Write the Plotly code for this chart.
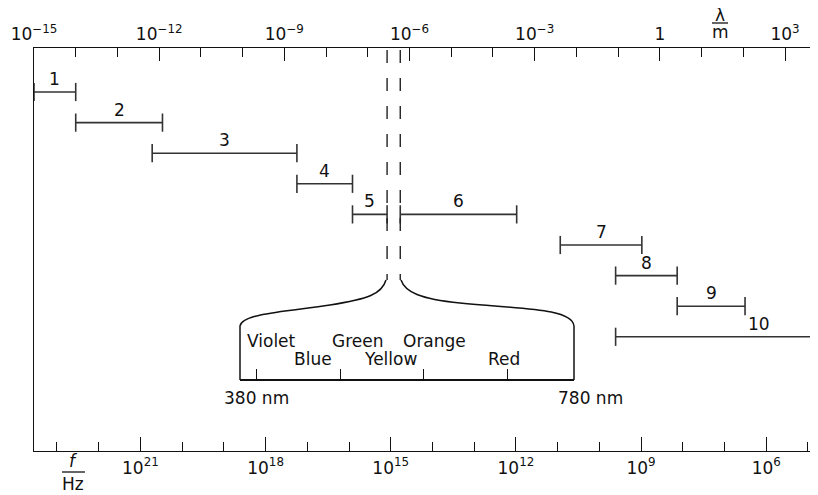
import numpy as np
import plotly.graph_objects as go

# ---------------- data ----------------
BAND = [1, 2, 3, 4, 5, 6, 7, 8, 9, 10]
LAM_MIN_M = [1e-15, 1e-14, 6.8e-13, 2.0e-9, 4.3e-8, 6.0e-7, 4.1e-3, 8.7e-2, 2.6, 8.7e-2]
LAM_MAX_M = [1e-14, 1.2e-12, 2.0e-9, 4.3e-8, 2.9e-7, 3.7e-4, 0.37, 2.6, 110.0, 6.3e5]
BAND_ROW = [0, 1, 2, 3, 4, 4, 5, 6, 7, 8]

WL_TICKS = [1e-15, 1e-12, 1e-9, 1e-6, 1e-3, 1, 1e3]
WL_TICKTEXT = ["10<sup>−15</sup>", "10<sup>−12</sup>", "10<sup>−9</sup>", "10<sup>−6</sup>",
               "10<sup>−3</sup>", "1", "10<sup>3</sup>"]
WL_MINOR = [10.0 ** k for k in range(-15, 5)]

F_TICKS = [1e21, 1e18, 1e15, 1e12, 1e9, 1e6]
F_TICKTEXT = ["10<sup>21</sup>", "10<sup>18</sup>", "10<sup>15</sup>", "10<sup>12</sup>",
              "10<sup>9</sup>", "10<sup>6</sup>"]
F_MINOR = [10.0 ** k for k in range(4, 25)]

VIS_RANGE_NM = [380, 780]
VIS_TICKS_NM = [400, 500, 600, 700]
COLOR_NAMES = ["Violet", "Blue", "Green", "Yellow", "Orange", "Red"]
COLOR_NM = [418, 467, 521, 560, 613, 696]
COLOR_LINE = [0, 1, 0, 1, 0, 1]

# ---------------- layout helpers (window pixel coordinates) ----------------
WIN_W, WIN_H = 818, 495
BODY = 8                      # default page body margin of the html file
PLOT_L, PLOT_R, PLOT_T, PLOT_B = 34, 818, 48, 451
FIG_W, FIG_H = WIN_W - BODY, WIN_H - BODY
PW, PH = PLOT_R - PLOT_L, PLOT_B - PLOT_T


def px(x):
    return (x - PLOT_L) / PW


def py(y):
    return (PLOT_B - y) / PH


ROW0_PX, ROW_STEP = 92.0, 30.6
Y_RANGE = [(PLOT_B - ROW0_PX) / ROW_STEP, (PLOT_T - ROW0_PX) / ROW_STEP]
DASH_TOP = (50 - ROW0_PX) / ROW_STEP
DASH_BOT = (280 - ROW0_PX) / ROW_STEP

FONT = "DejaVu Sans, Liberation Sans, Arial, sans-serif"
INK = "#111111"
FS = 17
TXT = dict(family=FONT, size=FS, color=INK)

fig = go.Figure()

# bars
for b, lo, hi, r in zip(BAND, LAM_MIN_M, LAM_MAX_M, BAND_ROW):
    fig.add_trace(go.Scatter(
        x=[lo, hi], y=[r, r], xaxis="x2", yaxis="y", mode="lines+markers",
        line=dict(color="#333", width=1.6),
        marker=dict(symbol="line-ns", size=13, line=dict(color="#333", width=1.6)),
        hoverinfo="skip", showlegend=False))
    mid = (np.log10(lo) + np.log10(hi)) / 2
    fig.add_annotation(x=mid, y=r, xref="x2", yref="y", text=str(b), showarrow=False,
                       xanchor="center", yanchor="bottom", yshift=1, font=TXT)

# dashed boundaries of the visible band
for v in [LAM_MAX_M[4], LAM_MIN_M[5]]:
    fig.add_trace(go.Scatter(
        x=[v, v], y=[DASH_TOP, DASH_BOT], xaxis="x2", yaxis="y", mode="lines",
        line=dict(color="#222", width=1.4, dash="13px,15px"),
        hoverinfo="skip", showlegend=False))

# invisible traces so the frequency and inset axes are drawn
fig.add_trace(go.Scatter(x=[F_TICKS[0]], y=[0], xaxis="x", yaxis="y", mode="markers",
                         marker=dict(opacity=0), hoverinfo="skip", showlegend=False))
fig.add_trace(go.Scatter(x=[VIS_RANGE_NM[0]], y=[0], xaxis="x3", yaxis="y", mode="markers",
                         marker=dict(opacity=0), hoverinfo="skip", showlegend=False))

fig.update_layout(
    width=FIG_W, height=FIG_H,
    margin=dict(l=PLOT_L - BODY, r=WIN_W - PLOT_R, t=PLOT_T - BODY, b=WIN_H - PLOT_B,
                autoexpand=False),
    paper_bgcolor="white", plot_bgcolor="rgba(0,0,0,0)",
    xaxis=dict(type="log", range=[23.55, 4.76], side="bottom", anchor="y", automargin=False,
               showline=True, linecolor=INK, linewidth=1.3, mirror=False,
               ticks="inside", ticklen=14, tickwidth=1.3, tickcolor=INK,
               tickvals=F_TICKS, ticktext=F_TICKTEXT, tickfont=TXT,
               ticklabelstandoff=1,
               minor=dict(tickvals=F_MINOR, ticks="inside", ticklen=9, tickwidth=1.3, tickcolor=INK),
               showgrid=False, zeroline=False),
    xaxis2=dict(type="log", range=[-15, 3.79], side="top", anchor="y", overlaying="x",
                automargin=False,
                showline=True, linecolor=INK, linewidth=1.3,
                ticks="inside", ticklen=13, tickwidth=1.3, tickcolor=INK,
                tickvals=WL_TICKS, ticktext=WL_TICKTEXT, tickfont=TXT,
                ticklabelstandoff=0,
                minor=dict(tickvals=WL_MINOR, ticks="inside", ticklen=9, tickwidth=1.3, tickcolor=INK),
                showgrid=False, zeroline=False),
    xaxis3=dict(range=VIS_RANGE_NM, domain=[px(240), px(574)], anchor="free", position=py(380),
                automargin=False,
                showline=True, linecolor=INK, linewidth=1.5,
                ticks="inside", ticklen=10, tickwidth=1.3, tickcolor=INK,
                tickvals=VIS_TICKS_NM, showticklabels=False, showgrid=False, zeroline=False),
    yaxis=dict(range=Y_RANGE, showline=True, linecolor=INK, linewidth=1.3, automargin=False,
               showticklabels=False, ticks="", showgrid=False, zeroline=False),
)

# inset box sides and the brace-like curves
line_style = dict(color=INK, width=1.5)
for xs in (240, 574):
    fig.add_shape(type="line", xref="paper", yref="paper",
                  x0=px(xs), x1=px(xs), y0=py(380), y1=py(326), line=line_style)


def path(pts):
    s = "M {:.5f},{:.5f}".format(px(pts[0][0]), py(pts[0][1]))
    rest = pts[1:]
    for i in range(0, len(rest), 3):
        s += " C " + " ".join("{:.5f},{:.5f}".format(px(a), py(b)) for a, b in rest[i:i + 3])
    return s


left_curve = [(386, 280), (382, 294), (368, 299), (330, 305),
              (292, 311), (242, 313), (240, 326)]
right_curve = [(401, 280), (405, 292), (420, 299), (460, 303),
               (520, 309), (572, 308), (574, 326)]
for c in (left_curve, right_curve):
    fig.add_shape(type="path", xref="paper", yref="paper", path=path(c), line=line_style)

# colour names in the inset
for name, nm, ln in zip(COLOR_NAMES, COLOR_NM, COLOR_LINE):
    fig.add_annotation(x=nm, y=py(341 if ln == 0 else 359), xref="x3", yref="paper",
                       text=name, showarrow=False, xanchor="center", yanchor="middle", font=TXT)

for nm in VIS_RANGE_NM:
    fig.add_annotation(x=nm, y=py(398), xref="x3", yref="paper", text=f"{nm} nm",
                       showarrow=False, xanchor="center", yanchor="middle", xshift=16, font=TXT)

# axis quantity labels (quantity / unit)
fig.add_annotation(x=px(720), y=py(15), xref="paper", yref="paper", text="λ",
                   showarrow=False, xanchor="center", yanchor="middle", font=TXT)
fig.add_annotation(x=px(720), y=py(32), xref="paper", yref="paper", text="m",
                   showarrow=False, xanchor="center", yanchor="middle", font=TXT)
fig.add_shape(type="line", xref="paper", yref="paper", x0=px(712), x1=px(728),
              y0=py(23), y1=py(23), line=dict(color=INK, width=1.3))

fig.add_annotation(x=px(73), y=py(461), xref="paper", yref="paper", text="<i>f</i>",
                   showarrow=False, xanchor="center", yanchor="middle", font=TXT)
fig.add_annotation(x=px(73), y=py(484), xref="paper", yref="paper", text="Hz",
                   showarrow=False, xanchor="center", yanchor="middle", font=TXT)
fig.add_shape(type="line", xref="paper", yref="paper", x0=px(62), x1=px(85),
              y0=py(472), y1=py(472), line=dict(color=INK, width=1.3))

fig.write_html("out.html")
